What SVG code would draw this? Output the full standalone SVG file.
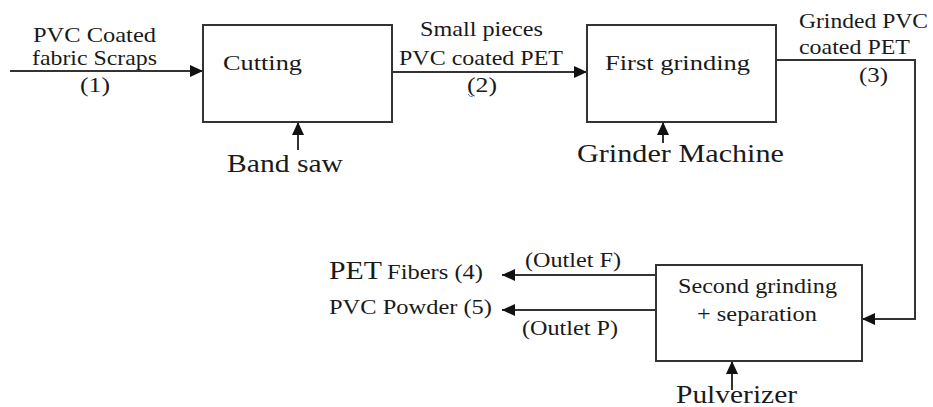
<svg xmlns="http://www.w3.org/2000/svg" width="933" height="407" viewBox="0 0 933 407">
<defs>
<marker id="ah" markerUnits="userSpaceOnUse" markerWidth="14" markerHeight="12" refX="13" refY="6" orient="auto">
<path d="M0,0 L13,6 L0,12 Z" fill="#111"/>
</marker>
<style>
.box{fill:#fff;stroke:#333;stroke-width:2}
.ln{fill:none;stroke:#333;stroke-width:2}
.t{font-family:"Liberation Serif","Times New Roman",Times,serif;fill:#1a1a1a;font-size:22px}
.b{font-size:25px}
</style>
</defs>
<rect width="933" height="407" fill="#fff"/>
<g id="connectors">
<line class="ln" x1="10" y1="71" x2="203" y2="71" marker-end="url(#ah)"/>
<line class="ln" x1="392" y1="72" x2="587" y2="72" marker-end="url(#ah)"/>
<polyline class="ln" points="776,60 915,60 915,319 862,319" marker-end="url(#ah)"/>
<line class="ln" x1="656" y1="275" x2="502" y2="275" marker-end="url(#ah)"/>
<line class="ln" x1="656" y1="310" x2="502" y2="310" marker-end="url(#ah)"/>
<line class="ln" x1="298" y1="150" x2="298" y2="122" marker-end="url(#ah)"/>
<line class="ln" x1="663" y1="143" x2="663" y2="122" marker-end="url(#ah)"/>
<line class="ln" x1="732" y1="390" x2="732" y2="361" marker-end="url(#ah)"/>
</g>
<g id="cutting">
<rect class="box" x="203" y="25" width="189" height="97"/>
<text class="t" x="223" y="70" textLength="79" lengthAdjust="spacingAndGlyphs">Cutting</text>
</g>
<g id="first-grinding">
<rect class="box" x="587" y="25" width="189" height="97"/>
<text class="t" x="605" y="70" textLength="145" lengthAdjust="spacingAndGlyphs">First grinding</text>
</g>
<g id="second-grinding">
<rect class="box" x="656" y="265" width="206" height="96"/>
<text class="t" x="678" y="293" textLength="159" lengthAdjust="spacingAndGlyphs">Second grinding</text>
<text class="t" x="697" y="321" textLength="120" lengthAdjust="spacingAndGlyphs">+ separation</text>
</g>
<g id="input-label">
<text class="t" x="33" y="42" textLength="123" lengthAdjust="spacingAndGlyphs">PVC Coated</text>
<text class="t" x="32" y="65" textLength="125" lengthAdjust="spacingAndGlyphs">fabric Scraps</text>
<text class="t" x="80" y="92" textLength="30" lengthAdjust="spacingAndGlyphs">(1)</text>
</g>
<g id="label-2">
<text class="t" x="420" y="36" textLength="123" lengthAdjust="spacingAndGlyphs">Small pieces</text>
<text class="t" x="399" y="65" textLength="164" lengthAdjust="spacingAndGlyphs">PVC coated PET</text>
<text class="t" x="467" y="92" textLength="30" lengthAdjust="spacingAndGlyphs">(2)</text>
<path d="M468,94 q2,4 5,2" fill="none" stroke="#4a6fd0" stroke-width="1"/>
</g>
<g id="label-3">
<text class="t" x="799" y="28" textLength="129" lengthAdjust="spacingAndGlyphs">Grinded PVC</text>
<text class="t" x="799" y="54" textLength="111" lengthAdjust="spacingAndGlyphs">coated PET</text>
<text class="t" x="859" y="82" textLength="29" lengthAdjust="spacingAndGlyphs">(3)</text>
</g>
<g id="band-saw">
<text class="t b" x="227" y="172" textLength="116" lengthAdjust="spacingAndGlyphs">Band saw</text>
</g>
<g id="grinder-machine">
<text class="t b" x="577" y="162" textLength="207" lengthAdjust="spacingAndGlyphs">Grinder Machine</text>
</g>
<g id="pulverizer">
<text class="t b" x="676" y="403" textLength="121" lengthAdjust="spacingAndGlyphs">Pulverizer</text>
</g>
<g id="pet-fibers">
<text class="t" x="329" y="279"><tspan font-size="26" textLength="53" lengthAdjust="spacingAndGlyphs">PET</tspan><tspan x="387" textLength="96" lengthAdjust="spacingAndGlyphs">Fibers (4)</tspan></text>
</g>
<g id="pvc-powder">
<text class="t" x="329" y="314" textLength="163" lengthAdjust="spacingAndGlyphs">PVC Powder (5)</text>
</g>
<g id="outlet-f">
<text class="t" x="525" y="267" textLength="96" lengthAdjust="spacingAndGlyphs">(Outlet F)</text>
</g>
<g id="outlet-p">
<text class="t" x="522" y="335" textLength="96" lengthAdjust="spacingAndGlyphs">(Outlet P)</text>
</g>
</svg>
